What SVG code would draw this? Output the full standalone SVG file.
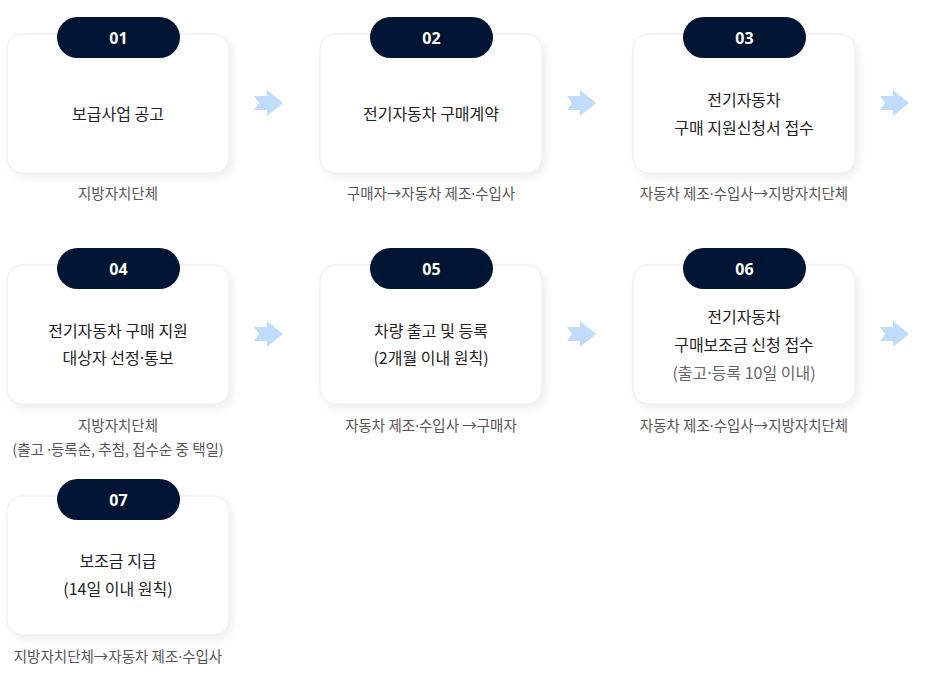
<svg xmlns="http://www.w3.org/2000/svg" width="929" height="676" viewBox="0 0 929 676">
<style>
.card{fill:#fff;stroke:#ececec;stroke-width:1;filter:url(#sh)}
.pill{fill:#001533}
.num{font-family:"Noto Sans","Noto Sans CJK KR",sans-serif;font-size:16px;font-weight:700;fill:#fff;text-anchor:middle}
.t{font-family:"Noto Sans CJK KR",sans-serif;font-size:16px;fill:#222;text-anchor:middle}
.g{font-family:"Noto Sans CJK KR",sans-serif;font-size:16px;fill:#666;text-anchor:middle}
.c{font-family:"Noto Sans CJK KR",sans-serif;font-size:14.5px;fill:#555;text-anchor:middle}
.d{font-family:"Noto Sans",sans-serif}
.arr{fill:#bfdcfc}
</style>
<defs>
<filter id="sh" x="-20%" y="-20%" width="140%" height="150%">
<feDropShadow dx="3" dy="4" stdDeviation="5" flood-color="#000" flood-opacity="0.07"/>
</filter>
<polygon id="ar" points="0,6 13,6 13,0 29,13 13,26 13,20 0,20 5,13"/>
</defs>
<g id="connectors">
<use href="#ar" class="arr" x="254" y="90"/>
<use href="#ar" class="arr" x="567" y="90"/>
<use href="#ar" class="arr" x="880" y="90"/>
<use href="#ar" class="arr" x="254" y="321"/>
<use href="#ar" class="arr" x="567" y="321"/>
<use href="#ar" class="arr" x="880" y="321"/>
</g>
<g id="n1">
<rect class="card" x="7" y="34" width="222" height="139" rx="15"/>
<rect class="pill" x="57" y="17" width="123" height="41" rx="20.5"/>
<text class="num" x="118.5" y="43.5">01</text>
<text class="t" x="118" y="119.5">보급사업 공고</text>
<text class="c" x="118" y="199">지방자치단체</text>
</g>
<g id="n2">
<rect class="card" x="320" y="34" width="222" height="139" rx="15"/>
<rect class="pill" x="370" y="17" width="123" height="41" rx="20.5"/>
<text class="num" x="431.5" y="43.5">02</text>
<text class="t" x="431" y="119.5">전기자동차 구매계약</text>
<text class="c" x="431" y="199">구매자→자동차 제조<tspan class="d">·</tspan>수입사</text>
</g>
<g id="n3">
<rect class="card" x="633" y="34" width="222" height="139" rx="15"/>
<rect class="pill" x="683" y="17" width="123" height="41" rx="20.5"/>
<text class="num" x="744.5" y="43.5">03</text>
<text class="t" x="744" y="105.5">전기자동차</text>
<text class="t" x="744" y="133.5">구매 지원신청서 접수</text>
<text class="c" x="744" y="199">자동차 제조<tspan class="d">·</tspan>수입사→지방자치단체</text>
</g>
<g id="n4">
<rect class="card" x="7" y="265" width="222" height="139" rx="15"/>
<rect class="pill" x="57" y="248" width="123" height="41" rx="20.5"/>
<text class="num" x="118.5" y="274.5">04</text>
<text class="t" x="118" y="336.5">전기자동차 구매 지원</text>
<text class="t" x="118" y="363.5">대상자 선정<tspan class="d">·</tspan>통보</text>
<text class="c" x="118" y="431">지방자치단체</text>
<text class="c" x="118" y="455">(출고 <tspan class="d">·</tspan>등록순, 추첨, 접수순 중 택일)</text>
</g>
<g id="n5">
<rect class="card" x="320" y="265" width="222" height="139" rx="15"/>
<rect class="pill" x="370" y="248" width="123" height="41" rx="20.5"/>
<text class="num" x="431.5" y="274.5">05</text>
<text class="t" x="431" y="336.5">차량 출고 및 등록</text>
<text class="t" x="431" y="363.5">(2개월 이내 원칙)</text>
<text class="c" x="431" y="431">자동차 제조<tspan class="d">·</tspan>수입사 →구매자</text>
</g>
<g id="n6">
<rect class="card" x="633" y="265" width="222" height="139" rx="15"/>
<rect class="pill" x="683" y="248" width="123" height="41" rx="20.5"/>
<text class="num" x="744.5" y="274.5">06</text>
<text class="t" x="744" y="322.5">전기자동차</text>
<text class="t" x="744" y="350.5">구매보조금 신청 접수</text>
<text class="g" x="744" y="378.5">(출고<tspan class="d">·</tspan>등록 10일 이내)</text>
<text class="c" x="744" y="431">자동차 제조<tspan class="d">·</tspan>수입사→지방자치단체</text>
</g>
<g id="n7">
<rect class="card" x="7" y="496" width="222" height="139" rx="15"/>
<rect class="pill" x="57" y="479" width="123" height="41" rx="20.5"/>
<text class="num" x="118.5" y="505.5">07</text>
<text class="t" x="118" y="566.5">보조금 지급</text>
<text class="t" x="118" y="594.5">(14일 이내 원칙)</text>
<text class="c" x="118" y="662">지방자치단체→자동차 제조<tspan class="d">·</tspan>수입사</text>
</g>
</svg>
